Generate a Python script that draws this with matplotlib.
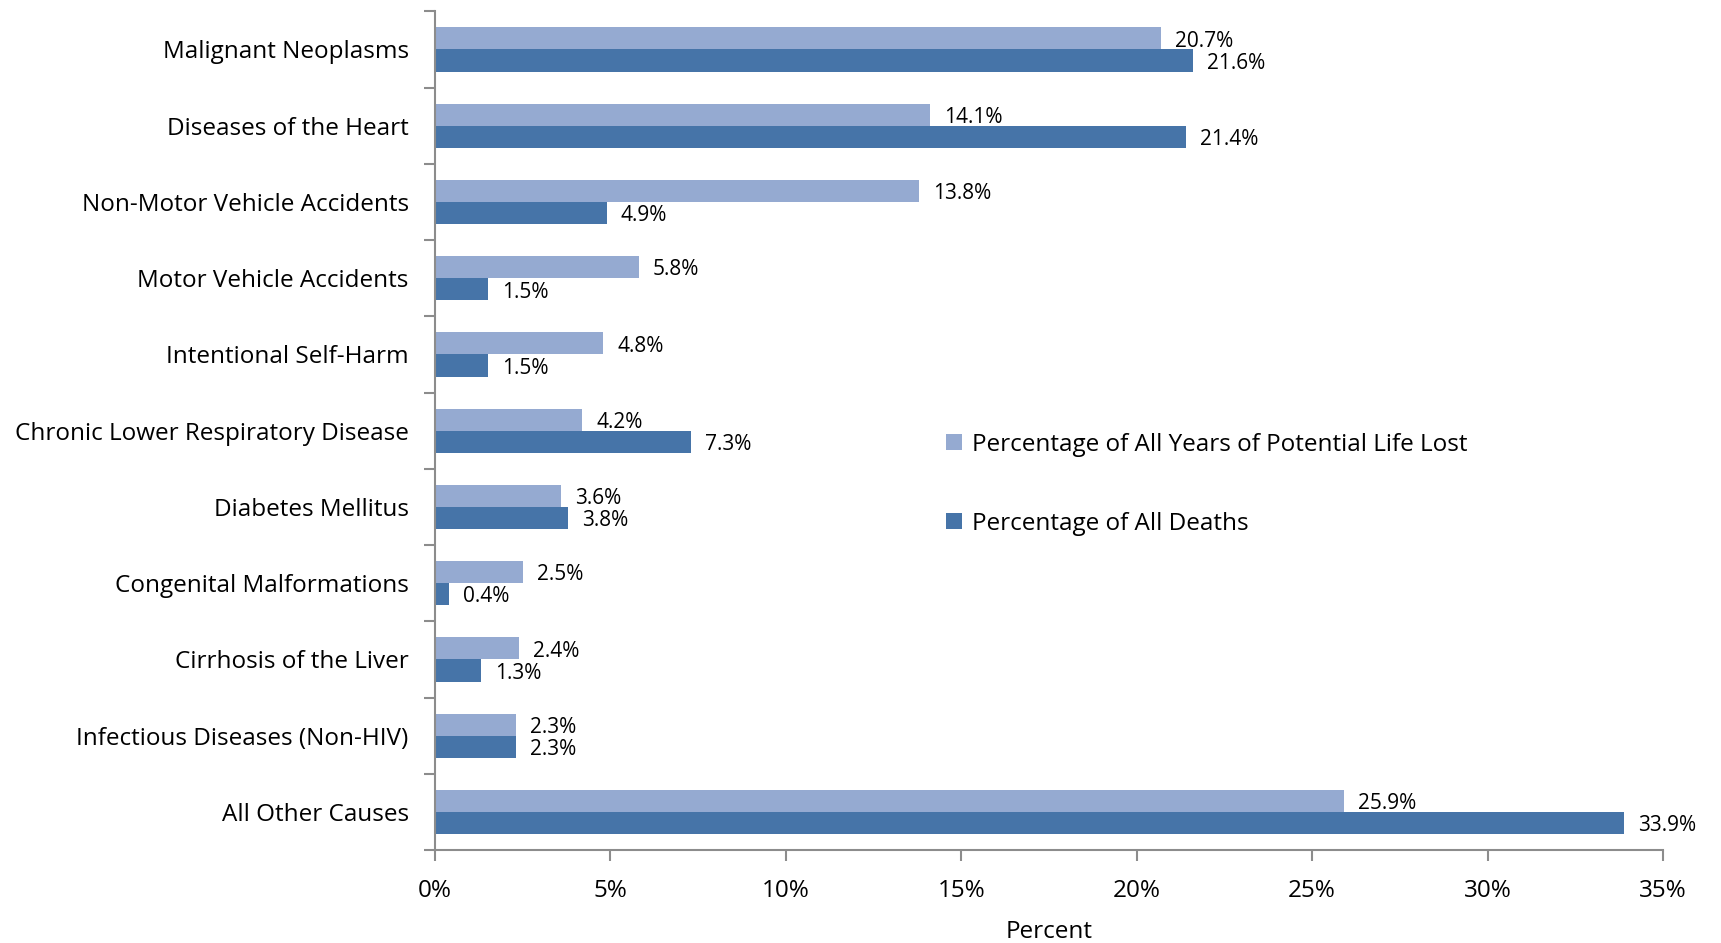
import numpy as np
import matplotlib
matplotlib.use('agg')
import matplotlib.pyplot as plt
from matplotlib.ticker import FixedLocator, FuncFormatter

plt.rcParams['font.family'] = ['Open Sans', 'DejaVu Sans']

causes = ['Malignant Neoplasms', 'Diseases of the Heart', 'Non-Motor Vehicle Accidents',
          'Motor Vehicle Accidents', 'Intentional Self-Harm', 'Chronic Lower Respiratory Disease',
          'Diabetes Mellitus', 'Congenital Malformations', 'Cirrhosis of the Liver',
          'Infectious Diseases (Non-HIV)', 'All Other Causes']
ypll_pct = [20.7, 14.1, 13.8, 5.8, 4.8, 4.2, 3.6, 2.5, 2.4, 2.3, 25.9]
deaths_pct = [21.6, 21.4, 4.9, 1.5, 1.5, 7.3, 3.8, 0.4, 1.3, 2.3, 33.9]
xticks = [0, 5, 10, 15, 20, 25, 30, 35]

c_light = '#95AAD1'
c_dark = '#4674A8'
grey = '#8C8C8C'

fig = plt.figure(figsize=(17.21, 9.43), dpi=100)
ax = fig.add_axes([0.2528, 0.0986, 0.7135, 0.8894])

n = len(causes)
y = np.arange(n)
h = 0.29
b1 = ax.barh(y - h / 2, ypll_pct, height=h, color=c_light, label='Percentage of All Years of Potential Life Lost')
b2 = ax.barh(y + h / 2, deaths_pct, height=h, color=c_dark, label='Percentage of All Deaths')

# value labels just right of each bar
for bars, vals in ((b1, ypll_pct), (b2, deaths_pct)):
    for bar, v in zip(bars, vals):
        ax.annotate('{:.1f}%'.format(v), (bar.get_width(), bar.get_y() + bar.get_height() / 2),
                    xytext=(10, -2), textcoords='offset points', va='center', ha='left', fontsize=15)

ax.set_ylim(n - 0.5, -0.5)
ax.set_xlim(0, 35)
ax.set_yticks(y)
ax.set_yticklabels(causes, fontsize=17.5)
ax.yaxis.set_minor_locator(FixedLocator(np.arange(-0.5, n, 1)))
ax.tick_params(axis='y', which='major', length=0, pad=19)
ax.tick_params(axis='y', which='minor', length=8, color=grey, width=1.5)
ax.set_xticks(xticks)
ax.xaxis.set_major_formatter(FuncFormatter(lambda v, p: '{:d}%'.format(int(v))))
ax.tick_params(axis='x', length=8, color=grey, width=1.5, labelsize=17.5, pad=13)
ax.set_xlabel('Percent', fontsize=17.5, labelpad=12)

for s in ('top', 'right'):
    ax.spines[s].set_visible(False)
for s in ('left', 'bottom'):
    ax.spines[s].set_color(grey)
    ax.spines[s].set_linewidth(1.5)

ax.legend(loc='center left', bbox_to_anchor=(0.5497, 0.4865), bbox_transform=fig.transFigure,
          frameon=False, fontsize=17.5, handlelength=0.65, handleheight=0.65, handletextpad=0.4,
          labelspacing=2.25, borderpad=0, borderaxespad=0)

plt.savefig('out.png', dpi=100)
